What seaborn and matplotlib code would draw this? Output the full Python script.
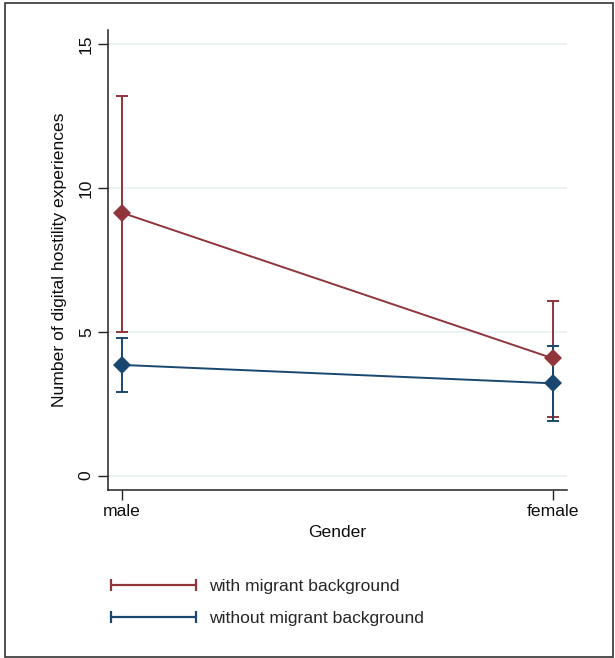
import matplotlib
matplotlib.use("Agg")
import matplotlib.pyplot as plt
import seaborn as sns
import pandas as pd
from matplotlib.lines import Line2D
from matplotlib.patches import Rectangle

# ---- data ----
genders = ["male", "female"]
groups = ["with migrant background", "without migrant background"]
mean_with = [9.14, 4.08]
low_with = [5.00, 2.03]
high_with = [13.19, 6.08]
mean_without = [3.85, 3.21]
low_without = [2.90, 1.91]
high_without = [4.77, 4.52]
y_ticks = [0, 5, 10, 15]

colors = {"with migrant background": "#90353B",
          "without migrant background": "#1A476F"}

rows = []
for g, m, lo, hi in [(groups[0], mean_with, low_with, high_with),
                     (groups[1], mean_without, low_without, high_without)]:
    for i, gen in enumerate(genders):
        rows.append({"gender": gen, "pos": i, "group": g,
                     "mean": m[i], "low": lo[i], "high": hi[i]})
df = pd.DataFrame(rows)

sns.set_theme(style="white")
plt.rcParams["font.family"] = ["Liberation Sans", "DejaVu Sans"]
FS = 12.6
FSPX = FS * 100 / 72
TXT = "#0d0d0d"

fig = plt.figure(figsize=(6.15, 6.58), dpi=100)
ax = fig.add_axes([108 / 615, 1 - 490 / 658, (567 - 108) / 615, (490 - 30) / 658])

# error bars (under the markers)
for g in groups:
    sub = df[df.group == g]
    ax.errorbar(sub["pos"], sub["mean"],
                yerr=[sub["mean"] - sub["low"], sub["high"] - sub["mean"]],
                fmt="none", ecolor=colors[g], elinewidth=1.4, capsize=4.5,
                capthick=1.4, zorder=1.5)

sns.lineplot(data=df, x="pos", y="mean", hue="group", palette=colors,
             marker="D", markersize=9.5, markeredgewidth=0, linewidth=1.4,
             legend=False, ax=ax, zorder=2)

ax.set_xlim(-0.033, 1.033)
ax.set_ylim(-0.5, 15.5)
ax.set_xticks(range(len(genders)))
ax.set_xticklabels(genders, fontsize=FS)
ax.set_yticks(y_ticks)
ax.set_yticklabels([str(t) for t in y_ticks], fontsize=FS, rotation=90,
                   va="center")
ax.tick_params(axis="both", direction="out", length=7.2, width=1.0,
               color="#222222", labelcolor=TXT, bottom=True, left=True)
ax.tick_params(axis="y", pad=3.0)
ax.tick_params(axis="x", pad=3.0)
ax.set_xlabel("Gender", fontsize=FS, color=TXT, labelpad=4)
ax.set_ylabel("Number of digital hostility experiences", fontsize=FS,
              color=TXT, labelpad=8.5)

ax.grid(axis="y", color="#EAF2F3", linewidth=1.3)
ax.grid(axis="x", visible=False)
ax.set_axisbelow(True)
for s in ["top", "right"]:
    ax.spines[s].set_visible(False)
for s in ["left", "bottom"]:
    ax.spines[s].set_color("#222222")
    ax.spines[s].set_linewidth(1.1)

# legend
handles = [Line2D([0], [0], color=colors[g], linewidth=1.6, marker="|",
                  markersize=8.5, markeredgewidth=1.6) for g in groups]
hl = 85 / FSPX + 0.6
fig.legend(handles, groups, loc="upper left", numpoints=2,
           bbox_to_anchor=((111 - 0.3 * FSPX) / 615, 1 - 579 / 658),
           frameon=False, fontsize=FS, handlelength=hl,
           handletextpad=(209 - 111 + 0.3 * FSPX) / FSPX - hl,
           labelspacing=0.93, borderpad=0, borderaxespad=0)

# outer frame
fig.patches.append(Rectangle((5 / 615, 1.5 / 658), (613 - 5) / 615,
                             (656 - 2) / 658, transform=fig.transFigure,
                             fill=False, edgecolor="#333333", linewidth=1.2))

fig.savefig("out.png", dpi=100)
